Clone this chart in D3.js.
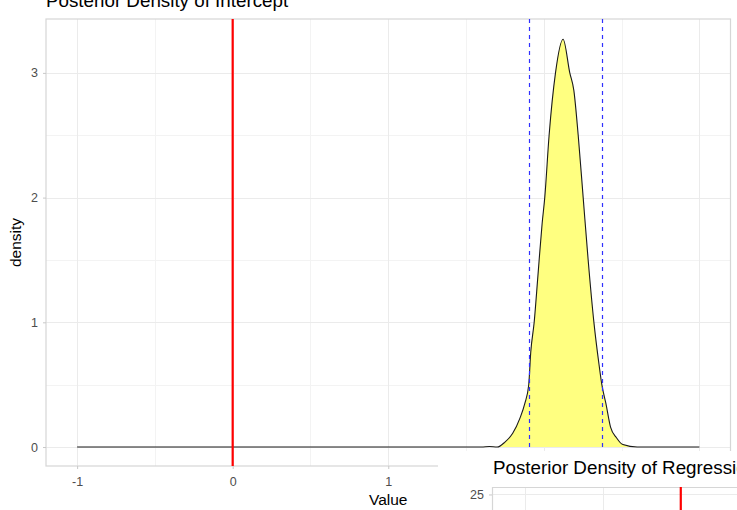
<!DOCTYPE html>
<html>
<head>
<meta charset="utf-8">
<script src="https://cdn.jsdelivr.net/npm/d3@7"></script>
<style>
  body { margin: 0; background: #fff; }
  svg { display: block; font-family: "Liberation Sans", Arial, sans-serif; }
</style>
</head>
<body>
<script>
// density curve of the intercept
const densityX = [-1, 1.6, 1.65, 1.7, 1.75, 1.8, 1.846, 1.878, 1.903, 1.916, 1.938, 1.96, 1.97, 1.989, 2.006, 2.034, 2.075, 2.124,
  2.167, 2.193, 2.221, 2.253, 2.285, 2.322, 2.354, 2.373, 2.399, 2.429, 2.467, 2.508, 2.6, 3];
const densityY = [0, 0, 0.004, 0, 0.04, 0.11, 0.23, 0.35, 0.5, 0.76, 1.0, 1.34, 1.5, 1.79, 2.0, 2.5, 3.0, 3.27,
  3.0, 2.86, 2.5, 2.0, 1.5, 1.0, 0.67, 0.5, 0.35, 0.16, 0.075, 0.02, 0, 0];
const intervalBounds = [1.904, 2.371];
const referenceValue = 0;

const xTicks = [-1, 0, 1, 2, 3];
const xMinor = [-0.5, 0.5, 1.5, 2.5];
const yTicks = [0, 1, 2, 3];
const yMinor = [0.5, 1.5, 2.5];

// inset (second plot, mostly hidden below the window)
const insetXMajor = [-1, 0];
const insetXMinor = [-0.5];
const insetYTicks = [25];
const insetReference = 0;

const render = () => {
  const width = 737;
  const height = 510;
  const panel = { left: 46, right: 730.5, top: 19, bottom: 466 };
  const insetBox = { x: 438, y: 451 };
  const px = v => Math.round(v) + 0.5;

  const svg = d3.select('body').append('svg')
    .attr('width', width)
    .attr('height', height);

  const xScale = d3.scaleLinear().domain([-1.2, 3.2]).range([panel.left, panel.right]);
  const yScale = d3.scaleLinear().domain([-0.152, 3.432]).range([panel.bottom, panel.top]);

  // grid
  const grid = svg.append('g');
  grid.selectAll('.xminor').data(xMinor).enter().append('line')
    .attr('x1', d => px(xScale(d))).attr('x2', d => px(xScale(d)))
    .attr('y1', panel.top).attr('y2', panel.bottom)
    .attr('stroke', '#f3f3f3').attr('stroke-width', 1);
  grid.selectAll('.yminor').data(yMinor).enter().append('line')
    .attr('x1', panel.left).attr('x2', panel.right)
    .attr('y1', d => px(yScale(d))).attr('y2', d => px(yScale(d)))
    .attr('stroke', '#f3f3f3').attr('stroke-width', 1);
  grid.selectAll('.xmajor').data(xTicks).enter().append('line')
    .attr('x1', d => px(xScale(d))).attr('x2', d => px(xScale(d)))
    .attr('y1', panel.top).attr('y2', panel.bottom)
    .attr('stroke', '#ebebeb').attr('stroke-width', 1);
  grid.selectAll('.ymajor').data(yTicks).enter().append('line')
    .attr('x1', panel.left).attr('x2', panel.right)
    .attr('y1', d => px(yScale(d))).attr('y2', d => px(yScale(d)))
    .attr('stroke', '#ebebeb').attr('stroke-width', 1);

  // panel border
  svg.append('rect')
    .attr('x', panel.left).attr('y', panel.top)
    .attr('width', panel.right - panel.left).attr('height', panel.bottom - panel.top)
    .attr('fill', 'none').attr('stroke', '#d6d6d6').attr('stroke-width', 1.2);

  // axes
  const fmt = d => String(d);
  const xAxis = d3.axisBottom(xScale).tickValues(xTicks).tickSize(3).tickPadding(8).tickFormat(fmt);
  const yAxis = d3.axisLeft(yScale).tickValues(yTicks).tickSize(3).tickPadding(5).tickFormat(fmt);
  const xAxisG = svg.append('g').attr('transform', `translate(0, ${panel.bottom})`).call(xAxis);
  const yAxisG = svg.append('g').attr('transform', `translate(${panel.left}, 0)`).call(yAxis);
  [xAxisG, yAxisG].forEach(g => {
    g.select('.domain').remove();
    g.selectAll('line').attr('stroke', '#c8c8c8');
    g.selectAll('text').attr('fill', '#4d4d4d').style('font-size', '12.5px')
      .style('font-family', '"Liberation Sans", Arial, sans-serif');
  });
  // labels under the inset are covered anyway
  xAxisG.selectAll('.tick').filter(d => xScale(d) > insetBox.x).select('text').remove();

  // density area
  const points = densityX.map((x, i) => [x, densityY[i]]);
  svg.append('path').datum(points)
    .attr('fill', '#ffff80')
    .attr('d', d3.area().x(d => xScale(d[0])).y0(yScale(0)).y1(d => yScale(d[1])).curve(d3.curveMonotoneX));
  svg.append('path').datum(points)
    .attr('fill', 'none').attr('stroke', '#1a1a1a').attr('stroke-width', 1.1)
    .attr('d', d3.line().x(d => xScale(d[0])).y(d => yScale(d[1])).curve(d3.curveMonotoneX));

  // credible interval and reference line
  svg.selectAll('.bound').data(intervalBounds).enter().append('line')
    .attr('x1', d => px(xScale(d))).attr('x2', d => px(xScale(d)))
    .attr('y1', panel.top).attr('y2', panel.bottom)
    .attr('stroke', '#3030ff').attr('stroke-width', 1.2).attr('stroke-dasharray', '4,4');
  svg.append('line')
    .attr('x1', xScale(referenceValue)).attr('x2', xScale(referenceValue))
    .attr('y1', panel.top).attr('y2', panel.bottom)
    .attr('stroke', '#ff0000').attr('stroke-width', 2.2);

  // titles
  svg.append('text').attr('x', panel.left).attr('y', 7)
    .style('font-size', '18.8px').attr('fill', '#000')
    .text('Posterior Density of Intercept');
  svg.append('text').attr('x', (panel.left + panel.right) / 2).attr('y', 505)
    .attr('text-anchor', 'middle').style('font-size', '15.5px')
    .text('Value');
  svg.append('text').attr('transform', `translate(21, ${(panel.top + panel.bottom) / 2}) rotate(-90)`)
    .attr('text-anchor', 'middle').style('font-size', '15.5px')
    .text('density');

  // inset plot laid over the bottom right corner
  const inset = svg.append('g');
  inset.append('rect').attr('x', insetBox.x).attr('y', insetBox.y).attr('width', 300).attr('height', 60).attr('fill', '#fff');
  const ix = d3.scaleLinear().domain([-1.21, 3.2]).range([492, 1180]);
  const iy = d3.scaleLinear().domain([0, 26.2]).range([650, 487]);
  inset.selectAll('.ixminor').data(insetXMinor).enter().append('line')
    .attr('x1', d => px(ix(d))).attr('x2', d => px(ix(d))).attr('y1', 487).attr('y2', 510)
    .attr('stroke', '#ebebeb');
  inset.selectAll('.ixmajor').data(insetXMajor).enter().append('line')
    .attr('x1', d => px(ix(d))).attr('x2', d => px(ix(d))).attr('y1', 487).attr('y2', 510)
    .attr('stroke', '#ebebeb');
  inset.selectAll('.iymajor').data(insetYTicks).enter().append('line')
    .attr('x1', 492).attr('x2', 737).attr('y1', d => px(iy(d))).attr('y2', d => px(iy(d)))
    .attr('stroke', '#ebebeb');
  inset.append('path').attr('d', 'M492.5,512V487.5H740')
    .attr('fill', 'none').attr('stroke', '#d6d6d6').attr('stroke-width', 1.2);
  const iyAxis = d3.axisLeft(iy).tickValues(insetYTicks).tickSize(3).tickPadding(5);
  const iyG = inset.append('g').attr('transform', 'translate(492, 0)').call(iyAxis);
  iyG.select('.domain').remove();
  iyG.selectAll('line').attr('stroke', '#c8c8c8');
  iyG.selectAll('text').attr('fill', '#4d4d4d').style('font-size', '12.5px')
    .style('font-family', '"Liberation Sans", Arial, sans-serif');
  inset.append('line')
    .attr('x1', ix(insetReference)).attr('x2', ix(insetReference)).attr('y1', 487).attr('y2', 512)
    .attr('stroke', '#ff0000').attr('stroke-width', 2.2);
  inset.append('text').attr('x', 493).attr('y', 474)
    .style('font-size', '18.8px').attr('fill', '#000')
    .text('Posterior Density of Regression Coefficient');
};

document.addEventListener('DOMContentLoaded', render);
</script>
</body>
</html>
